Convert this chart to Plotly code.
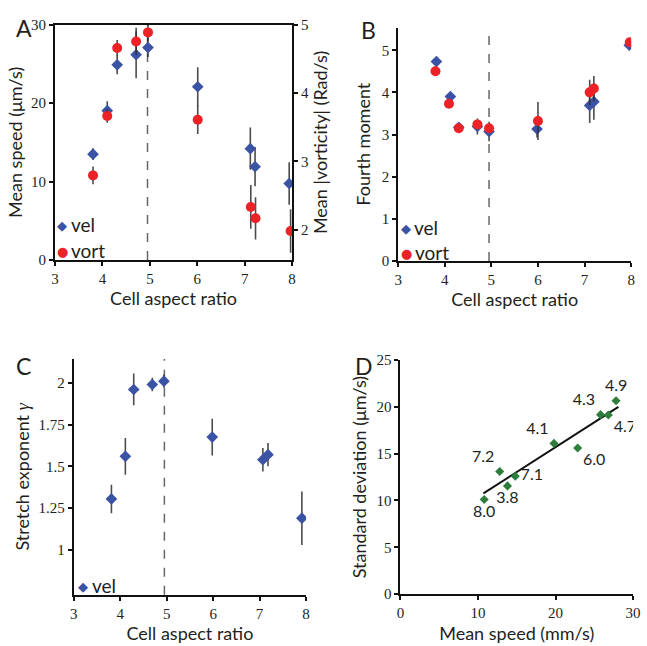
import plotly.graph_objects as go

# ---------------- data ----------------
# Panel A: mean speed (vel, left axis) and mean |vorticity| (vort, right axis)
a_vel_ratio = [3.80, 4.10, 4.31, 4.71, 4.96, 6.01, 7.12, 7.22, 7.94]
a_vel_speed = [13.5, 19.05, 24.9, 26.2, 27.1, 22.1, 14.2, 11.9, 9.75]
a_vel_err = [0.75, 1.2, 1.2, 3.0, 1.2, 2.5, 2.7, 2.5, 2.7]
a_vort_ratio = [3.80, 4.10, 4.31, 4.71, 4.96, 6.01, 7.13, 7.23, 7.97]
a_vort_value = [2.795, 3.666, 4.66, 4.757, 4.89, 3.61, 2.333, 2.166, 1.98]
a_vort_err = [0.13, 0.10, 0.12, 0.20, 0.12, 0.21, 0.32, 0.31, 0.32]

# Panel B: fourth moment
b_vel_ratio = [3.82, 4.12, 4.30, 4.70, 4.95, 5.98, 7.11, 7.20, 7.96]
b_vel_moment = [4.73, 3.90, 3.17, 3.19, 3.07, 3.13, 3.69, 3.78, 5.12]
b_vel_err = [0, 0, 0, 0.19, 0.23, 0.20, 0.42, 0.43, 0]
b_vort_ratio = [3.80, 4.09, 4.30, 4.70, 4.95, 6.00, 7.11, 7.20, 7.97]
b_vort_moment = [4.50, 3.73, 3.15, 3.24, 3.15, 3.32, 4.00, 4.09, 5.19]
b_vort_err = [0, 0, 0, 0.10, 0.10, 0.45, 0.30, 0.30, 0]

# Panel C: stretch exponent
c_vel_ratio = [3.81, 4.11, 4.29, 4.69, 4.94, 5.98, 7.07, 7.18, 7.91]
c_vel_gamma = [1.305, 1.56, 1.96, 1.99, 2.01, 1.675, 1.54, 1.57, 1.19]
c_vel_err = [0.085, 0.11, 0.095, 0.04, 0.04, 0.11, 0.07, 0.07, 0.16]

# Panel D: standard deviation vs mean speed
d_speed = [10.8, 12.8, 13.8, 14.8, 19.8, 22.85, 25.8, 26.8, 27.8]
d_std = [10.1, 13.1, 11.56, 12.6, 16.1, 15.6, 19.17, 19.13, 20.66]
d_labels = ["8.0", "7.2", "3.8", "7.1", "4.1", "6.0", "4.3", "4.7", "4.9"]
d_label_pos = ["bottom center", "top left", "bottom center", "middle right",
               "top left", "bottom right", "top left", "bottom right", "top center"]
d_fit_speed = [10.7, 28.1]
d_fit_std = [10.76, 20.0]

threshold_ratio = 4.95

# ---------------- style ----------------
W, H = 647, 646
BLUE = "#3b53a4"
RED = "#ec2227"
GREEN = "#2e7d3c"
ERR = "rgba(45,45,45,0.85)"
SANS = "Lato"
SERIF = "Liberation Serif"
TITLE_FONT = dict(family=SANS, size=18, color="#231f20")
TICK_FONT = dict(family=SERIF, size=15, color="#231f20")


def px_x(a, b):
    return [a / W, b / W]


def px_y(top, bottom):
    return [1 - bottom / H, 1 - top / H]


def err(arr):
    return dict(type="data", array=arr, visible=True, color=ERR, thickness=1.6, width=0)


vel_marker = dict(symbol="diamond", size=9, color=BLUE)
vort_marker = dict(symbol="circle", size=10, color=RED)

fig = go.Figure()

# Panel A
fig.add_trace(go.Scatter(x=a_vel_ratio, y=a_vel_speed, mode="markers", marker=vel_marker,
                         error_y=err(a_vel_err), xaxis="x", yaxis="y", name="vel", showlegend=False))
fig.add_trace(go.Scatter(x=a_vort_ratio, y=a_vort_value, mode="markers", marker=vort_marker,
                         error_y=err(a_vort_err), xaxis="x", yaxis="y2", name="vort", showlegend=False))
# Panel B
fig.add_trace(go.Scatter(x=b_vel_ratio, y=b_vel_moment, mode="markers", marker=vel_marker,
                         error_y=err(b_vel_err), xaxis="x2", yaxis="y3", name="vel", showlegend=False))
fig.add_trace(go.Scatter(x=b_vort_ratio, y=b_vort_moment, mode="markers", marker=vort_marker,
                         error_y=err(b_vort_err), xaxis="x2", yaxis="y3", name="vort", showlegend=False))
# Panel C
fig.add_trace(go.Scatter(x=c_vel_ratio, y=c_vel_gamma, mode="markers", marker=vel_marker,
                         error_y=err(c_vel_err), xaxis="x3", yaxis="y4", name="vel", showlegend=False))
# Panel D
fig.add_trace(go.Scatter(x=d_fit_speed, y=d_fit_std, mode="lines", line=dict(color="#111", width=2),
                         xaxis="x4", yaxis="y5", showlegend=False))
fig.add_trace(go.Scatter(x=d_speed, y=d_std, mode="markers+text", text=d_labels,
                         textposition=d_label_pos,
                         textfont=dict(family=SANS, size=16, color="#231f20"),
                         marker=dict(symbol="diamond", size=7, color=GREEN),
                         xaxis="x4", yaxis="y5", showlegend=False))

common_axis = dict(showline=True, linecolor="#111", linewidth=2, ticks="outside", ticklen=4,
                   tickwidth=1.5, tickcolor="#111", showgrid=False, zeroline=False,
                   tickfont=TICK_FONT, title_font=TITLE_FONT)

ratio_ticks = dict(tickvals=[3, 4, 5, 6, 7, 8], range=[3, 8])

fig.update_layout(
    width=W, height=H, margin=dict(l=0, r=0, t=0, b=0),
    paper_bgcolor="white", plot_bgcolor="white",
    # A
    xaxis=dict(common_axis, domain=px_x(52, 293), anchor="y", mirror=True, **ratio_ticks,
               title=dict(text="Cell aspect ratio", standoff=2)),
    yaxis=dict(common_axis, domain=px_y(17.3, 258.3), anchor="x", range=[0, 30],
               tickvals=[0, 10, 20, 30], title=dict(text="Mean speed (μm/s)", standoff=4)),
    yaxis2=dict(common_axis, domain=px_y(17.3, 258.3), anchor="x", overlaying="y", side="right",
                range=[1.557, 5], tickvals=[2, 3, 4, 5],
                title=dict(text="Mean |vorticity| (Rad/s)", standoff=4)),
    # B
    xaxis2=dict(common_axis, domain=px_x(401, 638), anchor="y3", **ratio_ticks,
                title=dict(text="Cell aspect ratio", standoff=2)),
    yaxis3=dict(common_axis, domain=px_y(20, 259.3), anchor="x2", range=[0, 5.54],
                tickvals=[0, 1, 2, 3, 4, 5], title=dict(text="Fourth moment", standoff=6)),
    # C
    xaxis3=dict(common_axis, domain=px_x(71, 307.3), anchor="y4", **ratio_ticks,
                title=dict(text="Cell aspect ratio", standoff=4)),
    yaxis4=dict(common_axis, domain=px_y(360, 601.7), anchor="x3", range=[0.7315, 2.142],
                tickvals=[1, 1.25, 1.5, 1.75, 2], ticktext=["1", "1.25", "1.5", "1.75", "2"],
                title=dict(text="Stretch exponent <span style='font-family:Liberation Serif'><i>γ</i></span>",
                           standoff=4)),
    # D
    xaxis4=dict(common_axis, domain=px_x(403.3, 640), anchor="y5", range=[0, 30],
                tickvals=[0, 10, 20, 30], title=dict(text="Mean speed (mm/s)", standoff=7)),
    yaxis5=dict(common_axis, domain=px_y(361, 601), anchor="x4", range=[0, 25],
                tickvals=[0, 5, 10, 15, 20, 25], title=dict(text="Standard deviation (μm/s)", standoff=5)),
)

# vertical dashed reference lines at the threshold aspect ratio
for xa, ya in [("x", "y"), ("x2", "y3"), ("x3", "y4")]:
    fig.add_shape(type="line", xref=xa, yref=ya + " domain", x0=threshold_ratio, x1=threshold_ratio,
                  y0=0, y1=1, line=dict(color="#666", width=1.5, dash="dash"), layer="below")

# panel letters
for letter, (lx, ly) in {"A": (10, 21), "B": (361, 23), "C": (10, 367), "D": (355, 367)}.items():
    fig.add_annotation(text=letter, x=lx / W, y=1 - ly / H, xref="paper", yref="paper",
                       xanchor="left", yanchor="middle", showarrow=False,
                       font=dict(family=SANS, size=23, color="#231f20"))

# in-panel legends (glyph + label)
legend_items = [
    ("◆", BLUE, "vel", 59.3, 223.5), ("●", RED, "vort", 59.3, 250),
    ("◆", BLUE, "vel", 408.5, 225.7), ("●", RED, "vort", 409, 251.7),
    ("◆", BLUE, "vel", 80, 592.7),
]
for glyph, col, label, gx, gy in legend_items:
    fig.add_annotation(text=glyph, x=gx / W, y=1 - gy / H, xref="paper", yref="paper",
                       xanchor="center", yanchor="middle", showarrow=False,
                       font=dict(family="DejaVu Sans", size=13, color=col))
    fig.add_annotation(text=label, x=(gx + 7) / W, y=1 - (gy - 1) / H, xref="paper", yref="paper",
                       xanchor="left", yanchor="middle", showarrow=False,
                       font=dict(family=SANS, size=19, color="#231f20"))

fig.write_html("out.html", config={"displayModeBar": False},
               post_script="document.body.style.margin='0';document.body.style.overflow='hidden';")
